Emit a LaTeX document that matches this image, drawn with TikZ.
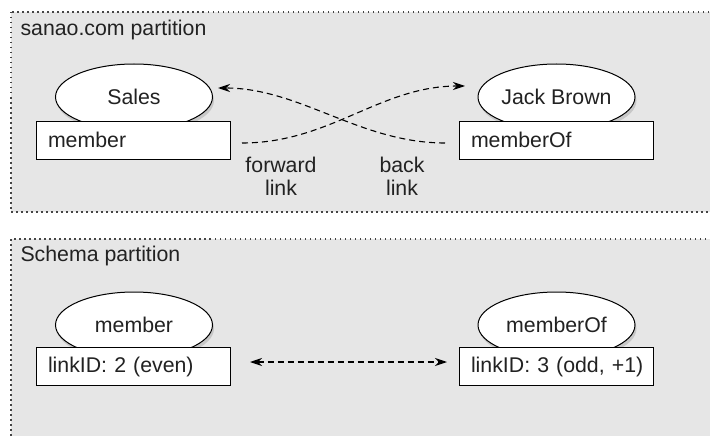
\documentclass[tikz,border=0pt]{standalone}
\usepackage{fontspec}
\setmainfont{Liberation Sans}
\usetikzlibrary{shapes.geometric,arrows.meta,shadows}
\definecolor{partfill}{HTML}{E6E6E6}
\definecolor{dotcol}{HTML}{444444}
\definecolor{txt}{HTML}{222222}
\begin{document}
\begin{tikzpicture}[x=1pt,y=-1pt,
  every node/.style={font=\fontsize{21.3}{23}\selectfont, text=txt},
  partition/.style={fill=partfill, draw=dotcol, line width=1.2pt, dash pattern=on 1.5pt off 3.5pt},
  ell/.style={ellipse, draw=black, fill=white, line width=1pt, minimum width=157pt, minimum height=66pt, inner sep=0pt,
    drop shadow={shadow xshift=1.5pt, shadow yshift=-3.5pt, fill=black!22, opacity=1}},
  attrbox/.style={rectangle, draw=black, fill=white, line width=1pt, minimum width=194pt, minimum height=38pt,
    inner xsep=12pt, text width=170pt, align=left},
  link/.style={draw=black, line width=1.1pt, dash pattern=on 6pt off 4pt, -{Stealth[length=12pt,width=8pt]}},
  lbl/.style={align=center}
]
\useasboundingbox (0,0) rectangle (710,436);
% partitions
\path[partition] (11,12) rectangle (730,212);
\path[partition] (11,239) rectangle (730,460);
\node[anchor=west] (p1) at (17,30) {sanao.com partition};
\node[anchor=west] (p2) at (17,256) {Schema partition};
% top partition
\node[ell] (sales) at (134,97) {Sales};
\node[ell] (jack) at (556.5,97) {Jack Brown};
\node[attrbox] (mem) at (133,140) {member};
\node[attrbox] (memof) at (556,140) {memberOf};
\coordinate (f1) at (242,143);
\coordinate (f2) at (465,86);
\coordinate (b1) at (445,143);
\coordinate (b2) at (218,88);
\draw[link] (f1) .. controls (330,143) and (380,86) .. (f2);
\draw[link] (b1) .. controls (360,143) and (300,88) .. (b2);
\node[lbl] (fl) at (281,176) {forward\\link};
\node[lbl] (bl) at (402,176) {back\\link};
% schema partition
\node[ell] (smem) at (134,325) {member};
\node[ell] (smemof) at (556.5,325) {memberOf};
\node[attrbox] (lid2) at (133,366.5) {\mbox{linkID: 2 (even)}};
\node[attrbox] (lid3) at (556,366.5) {\mbox{linkID: 3 (odd, +1)}};
\coordinate (s1) at (250,362);
\coordinate (s2) at (447,362);
\draw[link, {Stealth[length=12pt,width=8pt]}-{Stealth[length=12pt,width=8pt]}] (s1) -- (s2);
\end{tikzpicture}
\end{document}
